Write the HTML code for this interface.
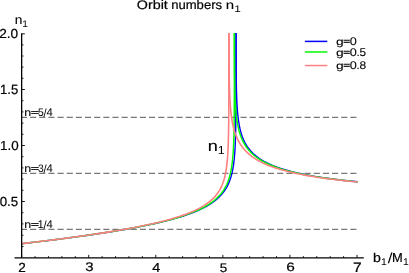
<!DOCTYPE html>
<html><head><meta charset="utf-8"><title>Orbit numbers</title>
<style>
html,body{margin:0;padding:0;background:#fff;}
body{width:409px;height:273px;overflow:hidden;font-family:"Liberation Sans",sans-serif;}
svg{display:block;}
text{font-family:"Liberation Sans",sans-serif;text-rendering:geometricPrecision;}
</style></head><body>
<svg width="409" height="273" viewBox="0 0 409 273">
<rect width="409" height="273" fill="#fff"/>
<line x1="21.65" y1="229.40" x2="357.70" y2="229.40" stroke="#787878" stroke-width="1.3" stroke-dasharray="6.1 3.05" stroke-dashoffset="0.7"/>
<line x1="21.65" y1="173.40" x2="357.70" y2="173.40" stroke="#787878" stroke-width="1.3" stroke-dasharray="6.1 3.05" stroke-dashoffset="0.7"/>
<line x1="21.65" y1="117.40" x2="357.70" y2="117.40" stroke="#787878" stroke-width="1.3" stroke-dasharray="6.1 3.05" stroke-dashoffset="0.7"/>
<path d="M21.65,243.68 L26.63,243.10 L31.61,242.51 L36.59,241.92 L41.57,241.32 L46.55,240.71 L51.53,240.09 L56.51,239.46 L61.50,238.82 L66.48,238.17 L71.46,237.51 L76.44,236.84 L81.42,236.15 L86.40,235.45 L91.38,234.74 L96.36,234.01 L101.34,233.26 L106.32,232.49 L111.30,231.70 L116.28,230.89 L121.26,230.05 L126.24,229.19 L131.22,228.30 L136.20,227.37 L141.19,226.41 L146.17,225.41 L151.15,224.36 L156.13,223.27 L161.11,222.11 L166.09,220.89 L171.07,219.59 L176.05,218.20 L181.03,216.71 L186.01,215.09 L190.99,213.32 L195.97,211.35 L200.95,209.14 L205.93,206.61 L210.91,203.63 L215.89,199.99 L215.89,199.99 L218.94,197.29 L221.52,194.59 L223.71,191.87 L225.58,189.14 L227.16,186.40 L228.50,183.64 L229.63,180.87 L230.60,178.08 L231.42,175.28 L232.11,172.46 L232.70,169.64 L233.21,166.79 L233.63,163.94 L233.99,161.08 L234.30,158.21 L234.56,155.34 L234.78,152.45 L234.97,149.56 L235.12,146.67 L235.26,143.77 L235.37,140.87 L235.47,137.96 L235.55,135.05 L235.62,132.14 L235.68,129.23 L235.73,126.31 L235.78,123.40 L235.81,120.48 L235.84,117.56 L235.87,114.64 L235.89,111.72 L235.91,108.80 L235.93,105.88 L235.94,102.96 L235.95,100.04 L235.96,97.11 L235.97,94.19 L235.98,91.27 L235.98,88.34 L235.99,85.42 L235.99,82.50 L236.00,79.57 L236.00,76.65 L236.00,73.73 L236.00,70.80 L236.01,67.88 L236.01,64.96 L236.01,62.03 L236.01,59.11 L236.01,56.19 L236.01,53.26 L236.01,50.34 L236.01,47.41 L236.01,44.49 L236.01,41.57 L236.01,38.64 L236.01,35.72 L236.01,32.95" fill="none" stroke="#0000ff" stroke-width="1.4" stroke-linejoin="round"/>
<path d="M236.04,32.95 L236.04,35.34 L236.04,38.27 L236.04,41.19 L236.05,44.11 L236.06,47.03 L236.06,49.96 L236.07,52.88 L236.08,55.80 L236.09,58.72 L236.11,61.65 L236.12,64.57 L236.14,67.49 L236.16,70.41 L236.19,73.33 L236.22,76.25 L236.26,79.16 L236.30,82.08 L236.35,85.00 L236.41,87.91 L236.48,90.83 L236.56,93.74 L236.66,96.65 L236.77,99.56 L236.91,102.46 L237.07,105.37 L237.25,108.27 L237.47,111.16 L237.73,114.06 L238.04,116.94 L238.40,119.82 L238.83,122.70 L239.33,125.56 L239.92,128.42 L240.61,131.27 L241.43,134.11 L242.40,136.93 L243.54,139.74 L244.88,142.53 L246.46,145.30 L248.32,148.05 L250.51,150.78 L253.09,153.47 L256.14,156.14 L256.14,156.14 L258.74,158.09 L261.35,159.81 L263.95,161.35 L266.56,162.74 L269.16,164.00 L271.77,165.15 L274.37,166.21 L276.98,167.20 L279.58,168.11 L282.19,168.96 L284.79,169.76 L287.40,170.51 L290.00,171.22 L292.61,171.89 L295.21,172.52 L297.82,173.12 L300.42,173.69 L303.03,174.24 L305.63,174.75 L308.24,175.25 L310.85,175.72 L313.45,176.18 L316.06,176.61 L318.66,177.03 L321.27,177.43 L323.87,177.82 L326.48,178.19 L329.08,178.55 L331.69,178.90 L334.29,179.24 L336.90,179.56 L339.50,179.88 L342.11,180.18 L344.71,180.47 L347.32,180.76 L349.92,181.04 L352.53,181.31 L355.13,181.57 L357.74,181.82" fill="none" stroke="#0000ff" stroke-width="1.4" stroke-linejoin="round"/>
<path d="M21.65,243.67 L26.59,243.10 L31.53,242.52 L36.47,241.93 L41.40,241.33 L46.34,240.72 L51.28,240.11 L56.22,239.49 L61.16,238.85 L66.10,238.21 L71.04,237.56 L75.97,236.89 L80.91,236.21 L85.85,235.51 L90.79,234.81 L95.73,234.08 L100.67,233.34 L105.61,232.58 L110.54,231.79 L115.48,230.99 L120.42,230.16 L125.36,229.31 L130.30,228.42 L135.24,227.51 L140.18,226.55 L145.11,225.56 L150.05,224.53 L154.99,223.44 L159.93,222.30 L164.87,221.09 L169.81,219.80 L174.75,218.43 L179.68,216.96 L184.62,215.36 L189.56,213.61 L194.50,211.67 L199.44,209.49 L204.38,206.99 L209.32,204.06 L214.25,200.48 L214.25,200.48 L217.30,197.80 L219.88,195.12 L222.07,192.42 L223.94,189.71 L225.51,186.98 L226.86,184.23 L227.99,181.46 L228.96,178.68 L229.78,175.87 L230.47,173.05 L231.06,170.21 L231.56,167.36 L231.99,164.49 L232.35,161.61 L232.66,158.72 L232.92,155.82 L233.14,152.91 L233.33,149.99 L233.48,147.07 L233.62,144.14 L233.73,141.20 L233.83,138.26 L233.91,135.32 L233.98,132.37 L234.04,129.42 L234.09,126.46 L234.14,123.51 L234.17,120.55 L234.20,117.59 L234.23,114.63 L234.25,111.67 L234.27,108.71 L234.29,105.75 L234.30,102.79 L234.31,99.82 L234.32,96.86 L234.33,93.89 L234.34,90.93 L234.34,87.97 L234.35,85.00 L234.35,82.03 L234.36,79.07 L234.36,76.10 L234.36,73.14 L234.36,70.17 L234.36,67.21 L234.37,64.24 L234.37,61.27 L234.37,58.31 L234.37,55.34 L234.37,52.38 L234.37,49.41 L234.37,46.44 L234.37,43.48 L234.37,40.51 L234.37,37.54 L234.37,34.58 L234.37,32.95" fill="none" stroke="#00fa00" stroke-width="1.45" stroke-linejoin="round"/>
<path d="M234.40,32.95 L234.40,33.18 L234.40,36.14 L234.40,39.11 L234.41,42.07 L234.42,45.04 L234.42,48.00 L234.43,50.97 L234.44,53.93 L234.45,56.90 L234.47,59.86 L234.48,62.82 L234.50,65.79 L234.52,68.75 L234.55,71.71 L234.58,74.67 L234.62,77.64 L234.66,80.60 L234.71,83.55 L234.77,86.51 L234.84,89.47 L234.92,92.42 L235.02,95.38 L235.13,98.33 L235.27,101.27 L235.43,104.22 L235.61,107.16 L235.83,110.10 L236.09,113.03 L236.40,115.96 L236.76,118.88 L237.19,121.80 L237.69,124.71 L238.28,127.61 L238.97,130.50 L239.79,133.37 L240.76,136.24 L241.90,139.08 L243.24,141.92 L244.82,144.73 L246.68,147.51 L248.87,150.28 L251.45,153.01 L254.50,155.71 L254.50,155.71 L257.14,157.72 L259.79,159.49 L262.44,161.07 L265.09,162.48 L267.73,163.77 L270.38,164.95 L273.03,166.04 L275.67,167.04 L278.32,167.97 L280.97,168.84 L283.62,169.65 L286.26,170.42 L288.91,171.13 L291.56,171.81 L294.20,172.46 L296.85,173.06 L299.50,173.64 L302.15,174.19 L304.79,174.72 L307.44,175.22 L310.09,175.70 L312.74,176.16 L315.38,176.60 L318.03,177.03 L320.68,177.43 L323.32,177.83 L325.97,178.20 L328.62,178.57 L331.27,178.92 L333.91,179.26 L336.56,179.59 L339.21,179.90 L341.85,180.21 L344.50,180.51 L347.15,180.79 L349.80,181.07 L352.44,181.35 L355.09,181.61 L357.74,181.86" fill="none" stroke="#00fa00" stroke-width="1.45" stroke-linejoin="round"/>
<path d="M21.65,243.66 L26.45,243.10 L31.25,242.54 L36.04,241.96 L40.84,241.38 L45.64,240.79 L50.44,240.19 L55.24,239.59 L60.04,238.97 L64.83,238.34 L69.63,237.71 L74.43,237.06 L79.23,236.40 L84.03,235.72 L88.83,235.04 L93.62,234.33 L98.42,233.61 L103.22,232.87 L108.02,232.11 L112.82,231.33 L117.62,230.53 L122.41,229.70 L127.21,228.85 L132.01,227.96 L136.81,227.04 L141.61,226.09 L146.41,225.09 L151.20,224.04 L156.00,222.94 L160.80,221.78 L165.60,220.55 L170.40,219.23 L175.20,217.82 L179.99,216.30 L184.79,214.63 L189.59,212.79 L194.39,210.73 L199.19,208.38 L203.99,205.62 L208.78,202.28 L208.78,202.28 L211.83,199.72 L214.41,197.15 L216.60,194.56 L218.47,191.95 L220.04,189.32 L221.38,186.66 L222.52,183.97 L223.49,181.25 L224.31,178.50 L225.00,175.72 L225.59,172.91 L226.09,170.07 L226.52,167.20 L226.88,164.30 L227.19,161.38 L227.45,158.43 L227.67,155.46 L227.85,152.47 L228.01,149.46 L228.15,146.43 L228.26,143.40 L228.36,140.35 L228.44,137.28 L228.51,134.21 L228.57,131.13 L228.62,128.05 L228.67,124.95 L228.70,121.86 L228.73,118.75 L228.76,115.65 L228.78,112.54 L228.80,109.43 L228.82,106.31 L228.83,103.19 L228.84,100.07 L228.85,96.95 L228.86,93.83 L228.87,90.71 L228.87,87.59 L228.88,84.46 L228.88,81.34 L228.88,78.21 L228.89,75.09 L228.89,71.96 L228.89,68.83 L228.89,65.71 L228.90,62.58 L228.90,59.45 L228.90,56.32 L228.90,53.20 L228.90,50.07 L228.90,46.94 L228.90,43.81 L228.90,40.68 L228.90,37.56 L228.90,34.43 L228.90,32.95" fill="none" stroke="#ff8080" stroke-width="1.6" stroke-linejoin="round"/>
<path d="M228.94,32.95 L228.94,34.42 L228.94,37.55 L228.95,40.67 L228.96,43.80 L228.97,46.93 L228.98,50.05 L228.99,53.18 L229.01,56.30 L229.03,59.43 L229.05,62.55 L229.08,65.68 L229.11,68.80 L229.15,71.92 L229.19,75.05 L229.24,78.17 L229.30,81.28 L229.37,84.40 L229.45,87.52 L229.55,90.63 L229.66,93.74 L229.80,96.85 L229.96,99.96 L230.14,103.06 L230.36,106.15 L230.62,109.25 L230.93,112.33 L231.29,115.41 L231.72,118.49 L232.22,121.55 L232.81,124.61 L233.50,127.65 L234.32,130.68 L235.29,133.70 L236.43,136.70 L237.77,139.67 L239.35,142.63 L241.21,145.56 L243.40,148.47 L245.98,151.34 L249.03,154.17 L249.03,154.17 L251.81,156.39 L254.60,158.32 L257.39,160.04 L260.18,161.58 L262.96,162.97 L265.75,164.23 L268.54,165.39 L271.33,166.47 L274.11,167.46 L276.90,168.38 L279.69,169.25 L282.48,170.05 L285.26,170.81 L288.05,171.53 L290.84,172.21 L293.63,172.85 L296.41,173.46 L299.20,174.03 L301.99,174.58 L304.78,175.11 L307.56,175.61 L310.35,176.09 L313.14,176.55 L315.93,176.99 L318.71,177.42 L321.50,177.82 L324.29,178.22 L327.08,178.59 L329.86,178.96 L332.65,179.31 L335.44,179.65 L338.23,179.98 L341.01,180.29 L343.80,180.60 L346.59,180.90 L349.38,181.18 L352.16,181.46 L354.95,181.73 L357.74,182.00" fill="none" stroke="#ff8080" stroke-width="1.6" stroke-linejoin="round"/>
<g stroke="#000" stroke-width="1.3" fill="none">
<line x1="21.65" y1="33.25" x2="21.65" y2="257.85"/>
<line x1="14.5" y1="257.80" x2="363.8" y2="257.80" stroke-width="1.15"/>
</g>
<g stroke="#000" stroke-width="0.9" fill="none">
<line x1="21.65" y1="257.85" x2="21.65" y2="254.85"/>
<line x1="35.06" y1="257.85" x2="35.06" y2="256.15"/>
<line x1="48.48" y1="257.85" x2="48.48" y2="256.15"/>
<line x1="61.89" y1="257.85" x2="61.89" y2="256.15"/>
<line x1="75.31" y1="257.85" x2="75.31" y2="256.15"/>
<line x1="88.72" y1="257.85" x2="88.72" y2="254.85"/>
<line x1="102.13" y1="257.85" x2="102.13" y2="256.15"/>
<line x1="115.55" y1="257.85" x2="115.55" y2="256.15"/>
<line x1="128.96" y1="257.85" x2="128.96" y2="256.15"/>
<line x1="142.38" y1="257.85" x2="142.38" y2="256.15"/>
<line x1="155.79" y1="257.85" x2="155.79" y2="254.85"/>
<line x1="169.20" y1="257.85" x2="169.20" y2="256.15"/>
<line x1="182.62" y1="257.85" x2="182.62" y2="256.15"/>
<line x1="196.03" y1="257.85" x2="196.03" y2="256.15"/>
<line x1="209.45" y1="257.85" x2="209.45" y2="256.15"/>
<line x1="222.86" y1="257.85" x2="222.86" y2="254.85"/>
<line x1="236.27" y1="257.85" x2="236.27" y2="256.15"/>
<line x1="249.69" y1="257.85" x2="249.69" y2="256.15"/>
<line x1="263.10" y1="257.85" x2="263.10" y2="256.15"/>
<line x1="276.52" y1="257.85" x2="276.52" y2="256.15"/>
<line x1="289.93" y1="257.85" x2="289.93" y2="254.85"/>
<line x1="303.34" y1="257.85" x2="303.34" y2="256.15"/>
<line x1="316.76" y1="257.85" x2="316.76" y2="256.15"/>
<line x1="330.17" y1="257.85" x2="330.17" y2="256.15"/>
<line x1="343.59" y1="257.85" x2="343.59" y2="256.15"/>
<line x1="357.00" y1="257.85" x2="357.00" y2="254.85"/>
<line x1="21.65" y1="246.53" x2="23.45" y2="246.53"/>
<line x1="21.65" y1="235.22" x2="23.45" y2="235.22"/>
<line x1="21.65" y1="223.90" x2="23.45" y2="223.90"/>
<line x1="21.65" y1="212.70" x2="23.45" y2="212.70"/>
<line x1="21.65" y1="201.50" x2="24.85" y2="201.50"/>
<line x1="21.65" y1="190.30" x2="23.45" y2="190.30"/>
<line x1="21.65" y1="179.10" x2="23.45" y2="179.10"/>
<line x1="21.65" y1="167.90" x2="23.45" y2="167.90"/>
<line x1="21.65" y1="156.70" x2="23.45" y2="156.70"/>
<line x1="21.65" y1="145.50" x2="24.85" y2="145.50"/>
<line x1="21.65" y1="134.30" x2="23.45" y2="134.30"/>
<line x1="21.65" y1="123.10" x2="23.45" y2="123.10"/>
<line x1="21.65" y1="111.90" x2="23.45" y2="111.90"/>
<line x1="21.65" y1="100.70" x2="23.45" y2="100.70"/>
<line x1="21.65" y1="89.50" x2="24.85" y2="89.50"/>
<line x1="21.65" y1="78.30" x2="23.45" y2="78.30"/>
<line x1="21.65" y1="67.10" x2="23.45" y2="67.10"/>
<line x1="21.65" y1="56.02" x2="23.45" y2="56.02"/>
<line x1="21.65" y1="44.93" x2="23.45" y2="44.93"/>
<line x1="21.65" y1="33.85" x2="24.85" y2="33.85"/>
</g>
<g style="opacity:0.999">
<text transform="translate(136.82,9.38) scale(1.19143,1.04397)" font-size="12" fill="#000" stroke="#000" stroke-width="0.2">Orbit</text>
<text transform="translate(171.13,9.38) scale(1.09114,1.04397)" font-size="12" fill="#000" stroke="#000" stroke-width="0.2">numbers</text>
<text transform="translate(225.80,9.40) scale(1.25548,1.02214)" font-size="12" fill="#000" stroke="#000" stroke-width="0.1">n</text>
<text transform="translate(234.30,11.70) scale(1.31431,1.06591)" font-size="9" fill="#000" stroke="#000" stroke-width="0">1</text>
<text transform="translate(14.69,23.85) scale(1.14759,1.06086)" font-size="12" fill="#000" stroke="#000" stroke-width="0.1">n</text>
<text transform="translate(22.22,26.80) scale(1.13391,1.04168)" font-size="9" fill="#000" stroke="#000" stroke-width="0">1</text>
<text transform="translate(-0.79,37.92) scale(1.14034,1.09462)" font-size="12" fill="#000" stroke="#000" stroke-width="0.2">2.0</text>
<text transform="translate(-0.00,94.02) scale(1.09410,1.11071)" font-size="12" fill="#000" stroke="#000" stroke-width="0.2">1.5</text>
<text transform="translate(-0.02,150.22) scale(1.11446,1.08874)" font-size="12" fill="#000" stroke="#000" stroke-width="0.2">1.0</text>
<text transform="translate(-0.32,206.02) scale(1.11401,1.09462)" font-size="12" fill="#000" stroke="#000" stroke-width="0.2">0.5</text>
<text transform="translate(18.22,272.45) scale(1.13412,1.09800)" font-size="12" fill="#000" stroke="#000" stroke-width="0.2">2</text>
<text transform="translate(85.23,271.43) scale(1.24792,1.04166)" font-size="12" fill="#000" stroke="#000" stroke-width="0.2">3</text>
<text transform="translate(152.17,271.95) scale(1.20724,1.08408)" font-size="12" fill="#000" stroke="#000" stroke-width="0.2">4</text>
<text transform="translate(219.71,271.53) scale(1.11610,1.04502)" font-size="12" fill="#000" stroke="#000" stroke-width="0.2">5</text>
<text transform="translate(286.32,271.33) scale(1.28226,1.00634)" font-size="12" fill="#000" stroke="#000" stroke-width="0.2">6</text>
<text transform="translate(352.90,272.05) scale(1.30154,1.13859)" font-size="12" fill="#000" stroke="#000" stroke-width="0.2">7</text>
<text transform="translate(373.09,261.72) scale(1.17669,1.06667)" font-size="12" fill="#000" stroke="#000" stroke-width="0.2">b</text>
<text transform="translate(381.00,264.55) scale(1.15968,1.08206)" font-size="9" fill="#000" stroke="#000" stroke-width="0">1</text>
<text transform="translate(387.70,263.01) scale(1.40972,1.21418)" font-size="12" fill="#000" stroke="#000" stroke-width="0">/</text>
<text transform="translate(392.05,261.85) scale(1.07134,1.07802)" font-size="12" fill="#000" stroke="#000" stroke-width="0.2">M</text>
<text transform="translate(403.00,264.55) scale(1.15968,1.08206)" font-size="9" fill="#000" stroke="#000" stroke-width="0">1</text>
<text transform="translate(207.80,150.60) scale(1.13287,0.95245)" font-size="16" fill="#000" stroke="#000" stroke-width="0.15">n</text>
<text transform="translate(217.65,153.80) scale(1.13860,1.07031)" font-size="11" fill="#000" stroke="#000" stroke-width="0">1</text>
<text transform="translate(24.27,115.65) scale(1.24763,1.06860)" font-size="10" fill="#000" stroke="#000" stroke-width="0.1">n</text>
<text transform="translate(30.71,115.36) scale(1.42022,0.80679)" font-size="10" fill="#000" stroke="#000" stroke-width="0.42">=</text>
<text transform="translate(37.89,115.54) scale(1.03349,1.10354)" font-size="10" fill="#000" stroke="#000" stroke-width="0">5</text>
<text transform="translate(43.40,116.53) scale(1.11578,1.18468)" font-size="10" fill="#000" stroke="#000" stroke-width="0">/</text>
<text transform="translate(46.44,115.65) scale(1.13116,1.11921)" font-size="10" fill="#000" stroke="#000" stroke-width="0">4</text>
<text transform="translate(24.27,171.65) scale(1.24763,1.06860)" font-size="10" fill="#000" stroke="#000" stroke-width="0.1">n</text>
<text transform="translate(30.71,171.36) scale(1.42022,0.80679)" font-size="10" fill="#000" stroke="#000" stroke-width="0.42">=</text>
<text transform="translate(37.91,171.54) scale(1.03349,1.08756)" font-size="10" fill="#000" stroke="#000" stroke-width="0">3</text>
<text transform="translate(43.40,172.53) scale(1.11578,1.18468)" font-size="10" fill="#000" stroke="#000" stroke-width="0">/</text>
<text transform="translate(46.44,171.65) scale(1.13116,1.11921)" font-size="10" fill="#000" stroke="#000" stroke-width="0">4</text>
<text transform="translate(24.27,227.65) scale(1.24763,1.06860)" font-size="10" fill="#000" stroke="#000" stroke-width="0.1">n</text>
<text transform="translate(30.71,227.36) scale(1.42022,0.80679)" font-size="10" fill="#000" stroke="#000" stroke-width="0.42">=</text>
<text transform="translate(37.43,227.65) scale(1.13649,1.11921)" font-size="10" fill="#000" stroke="#000" stroke-width="0">1</text>
<text transform="translate(43.40,228.53) scale(1.11578,1.18468)" font-size="10" fill="#000" stroke="#000" stroke-width="0">/</text>
<text transform="translate(46.44,227.65) scale(1.13116,1.11921)" font-size="10" fill="#000" stroke="#000" stroke-width="0">4</text>
<text transform="translate(335.92,44.50) scale(1.37868,1.03475)" font-size="10" fill="#000" stroke="#000" stroke-width="0.1">g</text>
<text transform="translate(343.23,44.13) scale(1.17323,0.82230)" font-size="10" fill="#000" stroke="#000" stroke-width="0.42">=</text>
<text transform="translate(349.66,44.74) scale(1.26562,1.11581)" font-size="10" fill="#000" stroke="#000" stroke-width="0.1">0</text>
<text transform="translate(335.92,55.70) scale(1.37868,1.03475)" font-size="10" fill="#000" stroke="#000" stroke-width="0.1">g</text>
<text transform="translate(343.23,55.33) scale(1.17323,0.82230)" font-size="10" fill="#000" stroke="#000" stroke-width="0.42">=</text>
<text transform="translate(349.66,55.94) scale(1.26562,1.11581)" font-size="10" fill="#000" stroke="#000" stroke-width="0.1">0</text>
<text transform="translate(356.55,56.05) scale(1.15528,1.02868)" font-size="10" fill="#000" stroke="#000" stroke-width="0.1">.</text>
<text transform="translate(359.43,55.94) scale(1.18113,1.13220)" font-size="10" fill="#000" stroke="#000" stroke-width="0.1">5</text>
<text transform="translate(335.92,68.50) scale(1.37868,1.03475)" font-size="10" fill="#000" stroke="#000" stroke-width="0.1">g</text>
<text transform="translate(343.23,68.13) scale(1.17323,0.82230)" font-size="10" fill="#000" stroke="#000" stroke-width="0.42">=</text>
<text transform="translate(349.66,68.74) scale(1.26562,1.11581)" font-size="10" fill="#000" stroke="#000" stroke-width="0.1">0</text>
<text transform="translate(356.55,68.85) scale(1.15528,1.02868)" font-size="10" fill="#000" stroke="#000" stroke-width="0.1">.</text>
<text transform="translate(359.38,68.74) scale(1.19342,1.11581)" font-size="10" fill="#000" stroke="#000" stroke-width="0.1">8</text>
</g>
<line x1="304.9" y1="41.40" x2="327.3" y2="41.40" stroke="#0000ff" stroke-width="1.5"/>
<line x1="304.9" y1="51.95" x2="327.3" y2="51.95" stroke="#00fa00" stroke-width="1.5"/>
<line x1="304.9" y1="65.55" x2="327.3" y2="65.55" stroke="#ff8080" stroke-width="1.5"/>
</svg></body></html>
